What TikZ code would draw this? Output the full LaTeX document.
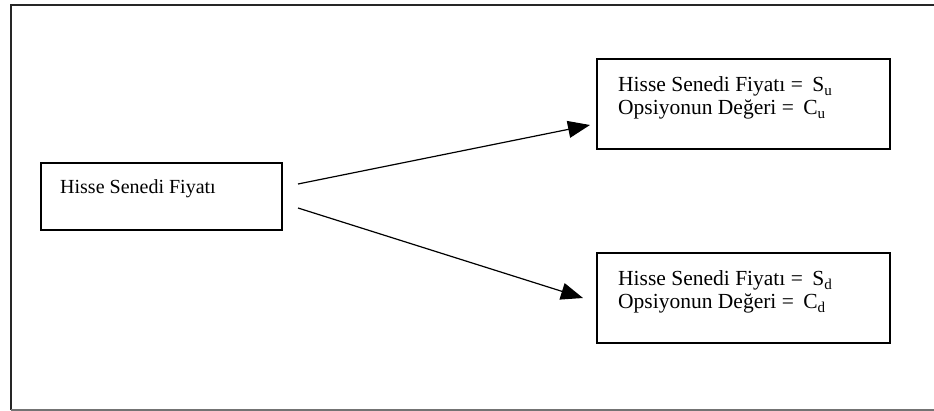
\documentclass[tikz,border=0pt]{standalone}
\usepackage{fontspec}
\setmainfont{Liberation Serif}
\usetikzlibrary{arrows.meta}
\begin{document}
\begin{tikzpicture}[x=1pt,y=-1pt,
  box/.style={draw=black,line width=1.4pt,rectangle,inner sep=0pt},
  txt/.style={inner sep=0pt,font=\fontsize{20}{23}\selectfont,align=left},
  rtxt/.style={inner sep=0pt,font=\fontsize{21.5}{23}\selectfont,align=left},
  arr/.style={line width=1.2pt,-{Triangle[length=22pt,width=17pt]}},
  frame/.style={line width=1.8pt,draw=black!85}]
\useasboundingbox (0,0) rectangle (934,411);
% outer frame (right side outside picture)
\draw[frame] (934,5) -- (11,5) -- (11,410);
\draw[line width=1.2pt,draw=black!55] (11,410) -- (934,410);
% boxes
\node[box,minimum width=241pt,minimum height=67pt] (s0) at (161.5,196.5) {};
\node[txt,anchor=base west] (t0) at (60,194) {Hisse Senedi Fiyatı};
\node[box,minimum width=293pt,minimum height=90pt] (su) at (743.5,104) {};
\node[rtxt,anchor=base west] (tu) at (618,115) {Hisse Senedi Fiyatı = \hspace{4pt}S\textsubscript{u}\\Opsiyonun Değeri = \hspace{4pt}C\textsubscript{u}};
\node[box,minimum width=293pt,minimum height=90pt] (sd) at (743.5,298) {};
\node[rtxt,anchor=base west] (td) at (618,309) {Hisse Senedi Fiyatı = \hspace{4pt}S\textsubscript{d}\\Opsiyonun Değeri = \hspace{4pt}C\textsubscript{d}};
% arrows
\coordinate (a1) at (298,184);
\coordinate (b1) at (590,125);
\coordinate (a2) at (298,208);
\coordinate (b2) at (583,298);
\draw[arr] (a1) -- (b1);
\draw[arr] (a2) -- (b2);
\end{tikzpicture}
\end{document}
